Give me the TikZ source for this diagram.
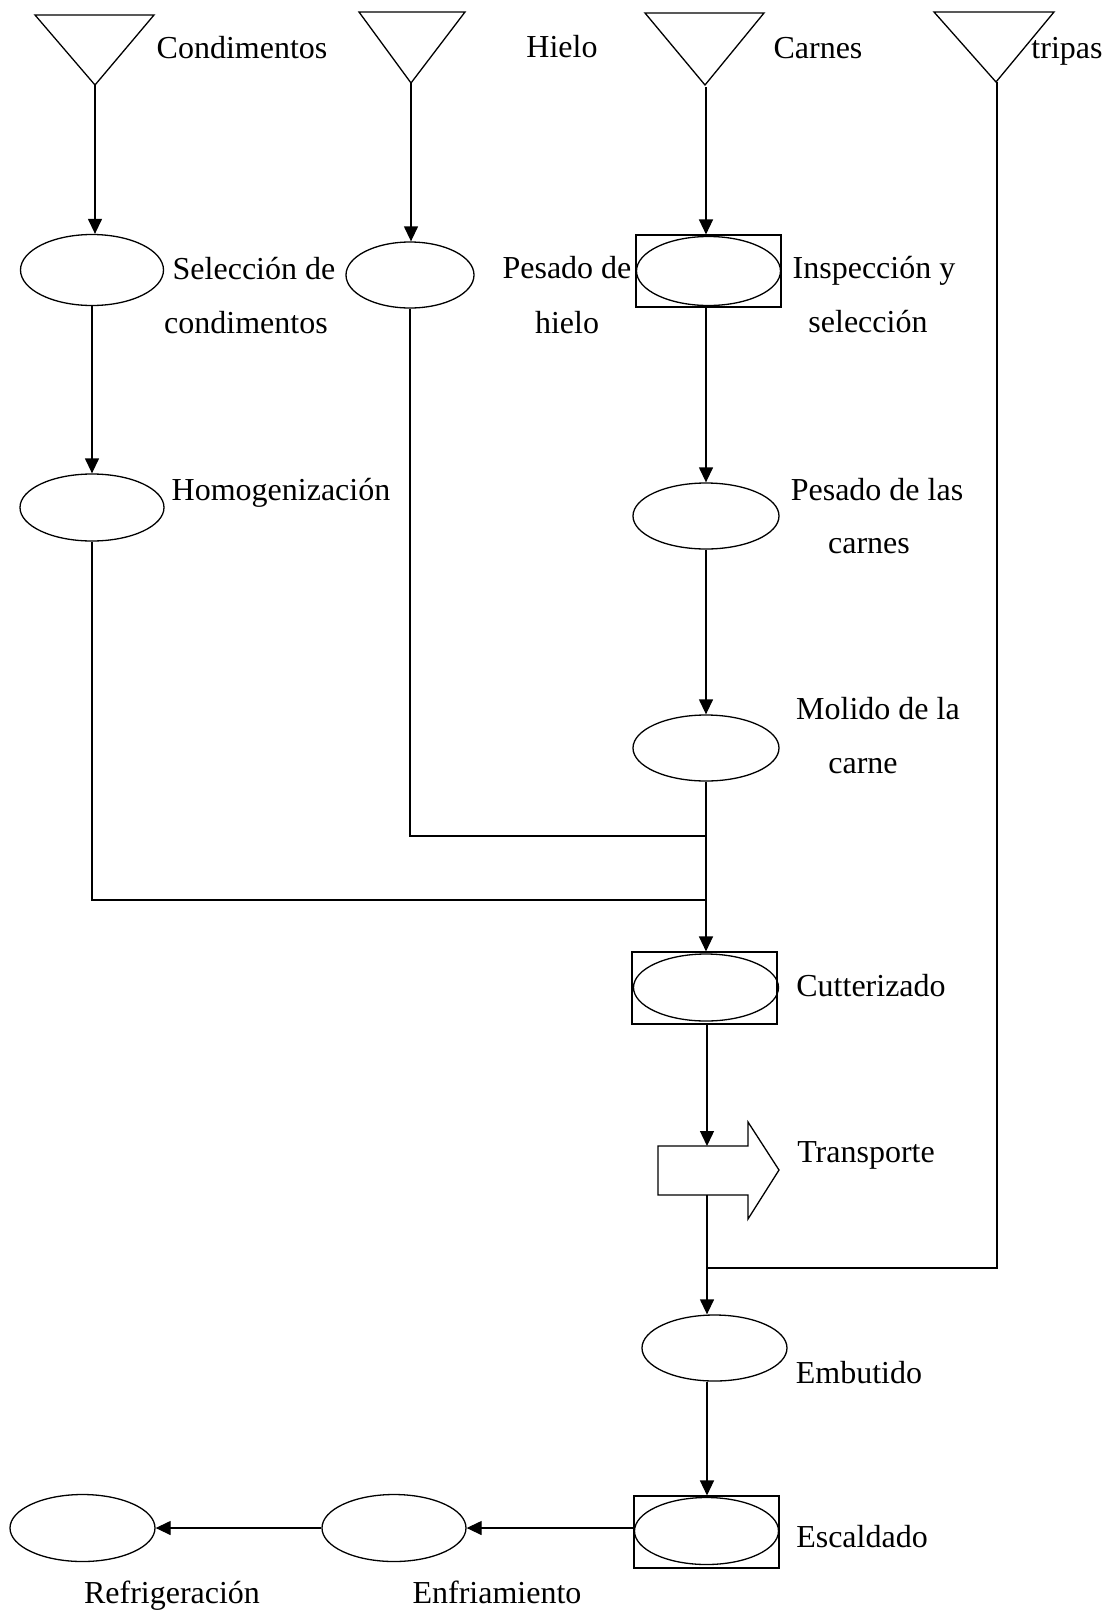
\documentclass[tikz,border=0pt]{standalone}
\usepackage{fontspec}
\setmainfont{Liberation Serif}
\usetikzlibrary{arrows.meta,shapes.geometric}
\begin{document}
\begin{tikzpicture}[x=1pt,y=-1pt,line width=1.3pt,
  proc/.style={draw, ellipse, inner sep=0pt, minimum width=#1, minimum height=67pt},
  proc/.default=145pt,
  frame/.style={draw, rectangle, inner sep=0pt, line width=1.1pt, minimum width=145pt, minimum height=72pt},
  lbl/.style={anchor=base, inner sep=0pt, font=\fontsize{32}{38}\selectfont},
  flow/.style={-{Triangle[length=15pt,width=14pt]}},
  link/.style={-}]
\fill[white] (0,0) rectangle (1113,1614);
\useasboundingbox (0,0) rectangle (1113,1614);

% supply triangles
\draw (35,15) -- (154,15) -- (95,85) -- cycle;
\coordinate (t1) at (95,85);
\draw (359,12) -- (465,12) -- (411,83) -- cycle;
\coordinate (t2) at (411,83);
\draw (645,13) -- (764,13) -- (705,85) -- cycle;
\coordinate (t3) at (706,87);
\draw (934,12) -- (1054,12) -- (996,82) -- cycle;
\coordinate (t4) at (997,82);

\node[lbl] (lcond) at (242,58) {Condimentos};
\node[lbl] (lhielo) at (562,57) {Hielo};
\node[lbl] (lcarnes) at (818,58) {Carnes};
\node[lbl] (ltripas) at (1067,58) {tripas};

% process nodes
\node[proc=143pt, minimum height=71pt] (e1) at (92,270) {};
\node[proc=128pt, minimum height=66pt] (e2) at (410,275) {};
\node[frame] (b3) at (708.5,271) {};
\node[proc=144pt, minimum height=69pt] (e3) at (708.5,271) {};
\node[proc=144pt] (e4) at (92,507.5) {};
\node[proc=146pt, minimum height=66pt] (e5) at (706,516) {};
\node[proc=146pt, minimum height=66pt] (e6) at (706,748) {};
\node[frame] (bcut) at (704.5,988) {};
\node[proc=145pt] (ecut) at (706,987.5) {};
\node[proc=145pt, minimum height=66pt] (emb) at (714.5,1348) {};
\node[frame] (besc) at (706.5,1532) {};
\node[proc=144pt] (esc) at (706.5,1531) {};
\node[proc=144pt] (enf) at (394,1528) {};
\node[proc=145pt] (ref) at (82.5,1528) {};

% transport arrow
\draw (658,1146) -- (748,1146) -- (748,1122) -- (779,1170) -- (748,1219) -- (748,1195) -- (658,1195) -- cycle;
\coordinate (trtop) at (707,1146);
\coordinate (trbot) at (707,1195);

% labels
\node[lbl] (l1a) at (254,279) {Selección de};
\node[lbl] (l1b) at (246,333) {condimentos};
\node[lbl] (l2a) at (567,278) {Pesado de};
\node[lbl] (l2b) at (567,333) {hielo};
\node[lbl] (l3a) at (874,278) {Inspección y};
\node[lbl] (l3b) at (868,332) {selección};
\node[lbl] (l4) at (281,500) {Homogenización};
\node[lbl] (l5a) at (877,500) {Pesado de las};
\node[lbl] (l5b) at (869,553) {carnes};
\node[lbl] (l6a) at (878,719) {Molido de la};
\node[lbl] (l6b) at (863,773) {carne};
\node[lbl] (lcut) at (871,996) {Cutterizado};
\node[lbl] (ltr) at (866,1162) {Transporte};
\node[lbl] (lemb) at (859,1383) {Embutido};
\node[lbl] (lesc) at (862,1547) {Escaldado};
\node[lbl] (lenf) at (497,1603) {Enfriamiento};
\node[lbl] (lref) at (172,1603) {Refrigeración};

% junctions
\coordinate (j1) at (707,836);
\coordinate (j2) at (707,900);
\coordinate (j3) at (707,1268);

% connectors
\draw[flow] (t1) -- (t1 |- e1.north);
\draw[flow] (t2) -- (t2 |- e2.north);
\draw[flow] (t3) -- (t3 |- b3.north);
\draw[flow] (e1.south) -- (e1.south |- e4.north);
\draw[flow] (b3.south -| e5.north) -- (e5.north);
\draw[flow] (e5.south) -- (e6.north);
\draw[link] (e2.south) |- (j1);
\draw[link] (e4.south) |- (j2);
\draw[flow] (e6.south) -- (e6.south |- bcut.north);
\draw[flow] (bcut.south -| trtop) -- (trtop);
\draw[link] (t4) |- (j3);
\draw[flow] (trbot) -- (trbot |- emb.north);
\draw[flow] (emb.south -| trbot) -- (trbot |- besc.north);
\draw[flow] (besc.west |- enf.east) -- (enf.east);
\draw[flow] (enf.west) -- (ref.east);
\end{tikzpicture}
\end{document}
